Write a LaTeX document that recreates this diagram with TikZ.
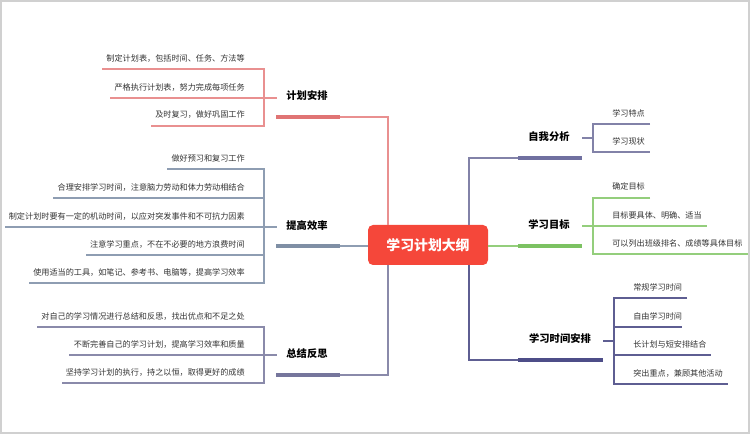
\documentclass[tikz,border=0pt]{standalone}
\usepackage{fontspec}
\usepackage{xcolor}
\usepackage{tikz}
\setmainfont{Noto Sans CJK SC}

\definecolor{framegray}{HTML}{D0D0D0}
\definecolor{rootred}{HTML}{F5473A}
\definecolor{plancol}{HTML}{E99090}
\definecolor{planbar}{HTML}{E07474}
\definecolor{effcol}{HTML}{8E9DB2}
\definecolor{effbar}{HTML}{7F8FA5}
\definecolor{sumcol}{HTML}{8A8AAA}
\definecolor{sumbar}{HTML}{76769C}
\definecolor{selfcol}{HTML}{8282A8}
\definecolor{selfbar}{HTML}{7070A0}
\definecolor{goalcol}{HTML}{94CE7C}
\definecolor{goalbar}{HTML}{7CC262}
\definecolor{timecol}{HTML}{5E5E92}
\definecolor{timebar}{HTML}{4E4E88}
\definecolor{leaftext}{HTML}{333333}

\tikzset{
  leaf/.style={inner sep=0.75pt, text=leaftext, font=\fontsize{6.1}{7}\selectfont},
  branch/.style={inner sep=0.75pt, text=black, font=\fontsize{7.7}{9}\selectfont\bfseries},
  rootbox/.style={fill=rootred, rounded corners=3.75, minimum width=90, minimum height=30,
    text=white, font=\fontsize{10.4}{12}\selectfont\bfseries},
  thin/.style={line width=0.9},
  bar/.style={line width=3},
}

\begin{document}
\begin{tikzpicture}[x=0.75pt,y=0.75pt,yscale=-1,xscale=1]

\useasboundingbox (0,0) rectangle (750,434);
\draw [color=framegray, line width=1.5] (0.75,0.75) rectangle (749.25,433.25);

% centre
\draw (428,245) node [rootbox] (root) {学习计划大纲};

% 计划安排
\draw (307,96) node [branch] (plan) {计划安排};
\coordinate (planj) at (388,117);
\draw [planbar, bar] (276,117) -- (340,117);
\draw [plancol, thin] (340,117) -- (planj) -- (root.north -| planj);
\draw [plancol, thin] (102,69) -- (264,69) -- (264,126) -- (151,126);
\draw [plancol, thin] (110,98) -- (277,98);
\draw (246,58) node [leaf, anchor=east] (plan1) {制定计划表，包括时间、任务、方法等};
\draw (246,87) node [leaf, anchor=east] (plan2) {严格执行计划表，努力完成每项任务};
\draw (246,115) node [leaf, anchor=east] (plan3) {及时复习，做好巩固工作};

% 提高效率
\draw (307,226) node [branch] (eff) {提高效率};
\draw [effbar, bar] (276,246) -- (340,246);
\draw [effcol, thin] (340,246) -- (root.west |- 0,246);
\draw [effcol, thin] (167,169) -- (264,169) -- (264,283) -- (29,283);
\draw [effcol, thin] (53,198) -- (264,198);
\draw [effcol, thin] (5,227) -- (277,227);
\draw [effcol, thin] (86,255) -- (264,255);
\draw (246,158) node [leaf, anchor=east] (eff1) {做好预习和复习工作};
\draw (246,187) node [leaf, anchor=east] (eff2) {合理安排学习时间，注意脑力劳动和体力劳动相结合};
\draw (246,216) node [leaf, anchor=east] (eff3) {制定计划时要有一定的机动时间，以应对突发事件和不可抗力因素};
\draw (246,244) node [leaf, anchor=east] (eff4) {注意学习重点，不在不必要的地方浪费时间};
\draw (246,272) node [leaf, anchor=east] (eff5) {使用适当的工具，如笔记、参考书、电脑等，提高学习效率};

% 总结反思
\draw (307,354) node [branch] (sum) {总结反思};
\coordinate (sumj) at (388,375);
\draw [sumbar, bar] (276,375) -- (340,375);
\draw [sumcol, thin] (340,375) -- (sumj) -- (root.south -| sumj);
\draw [sumcol, thin] (37,327) -- (264,327) -- (264,383) -- (62,383);
\draw [sumcol, thin] (69,355) -- (277,355);
\draw (246,316) node [leaf, anchor=east] (sum1) {对自己的学习情况进行总结和反思，找出优点和不足之处};
\draw (246,344) node [leaf, anchor=east] (sum2) {不断完善自己的学习计划，提高学习效率和质量};
\draw (246,372) node [leaf, anchor=east] (sum3) {坚持学习计划的执行，持之以恒，取得更好的成绩};

% 自我分析
\draw (549,137) node [branch] (self) {自我分析};
\coordinate (selfj) at (469,158);
\draw [selfbar, bar] (518,158) -- (582,158);
\draw [selfcol, thin] (root.north -| selfj) -- (selfj) -- (518,158);
\draw [selfcol, thin] (650,124) -- (593,124) -- (593,152) -- (650,152);
\draw [selfcol, thin] (582,138) -- (593,138);
\draw (611,113) node [leaf, anchor=west] (self1) {学习特点};
\draw (611,141) node [leaf, anchor=west] (self2) {学习现状};

% 学习目标
\draw (549,225) node [branch] (goal) {学习目标};
\draw [goalbar, bar] (518,246) -- (582,246);
\draw [goalcol, thin] (root.east |- 0,246) -- (518,246);
\draw [goalcol, thin] (650,198) -- (593,198) -- (593,254) -- (748,254);
\draw [goalcol, thin] (582,226) -- (707,226);
\draw (611,186) node [leaf, anchor=west] (goal1) {确定目标};
\draw (611,215) node [leaf, anchor=west] (goal2) {目标要具体、明确、适当};
\draw (611,243) node [leaf, anchor=west] (goal3) {可以列出班级排名、成绩等具体目标};

% 学习时间安排
\draw (560,339) node [branch] (time) {学习时间安排};
\coordinate (timej) at (469,360);
\draw [timebar, bar] (518,360) -- (603,360);
\draw [timecol, thin] (root.south -| timej) -- (timej) -- (518,360);
\draw [timecol, thin] (687,298) -- (614,298) -- (614,384) -- (728,384);
\draw [timecol, thin] (614,327) -- (682,327);
\draw [timecol, thin] (603,341) -- (614,341);
\draw [timecol, thin] (614,355) -- (711,355);
\draw (632,287) node [leaf, anchor=west] (time1) {常规学习时间};
\draw (632,316) node [leaf, anchor=west] (time2) {自由学习时间};
\draw (632,344) node [leaf, anchor=west] (time3) {长计划与短安排结合};
\draw (632,373) node [leaf, anchor=west] (time4) {突出重点，兼顾其他活动};

\end{tikzpicture}
\end{document}
